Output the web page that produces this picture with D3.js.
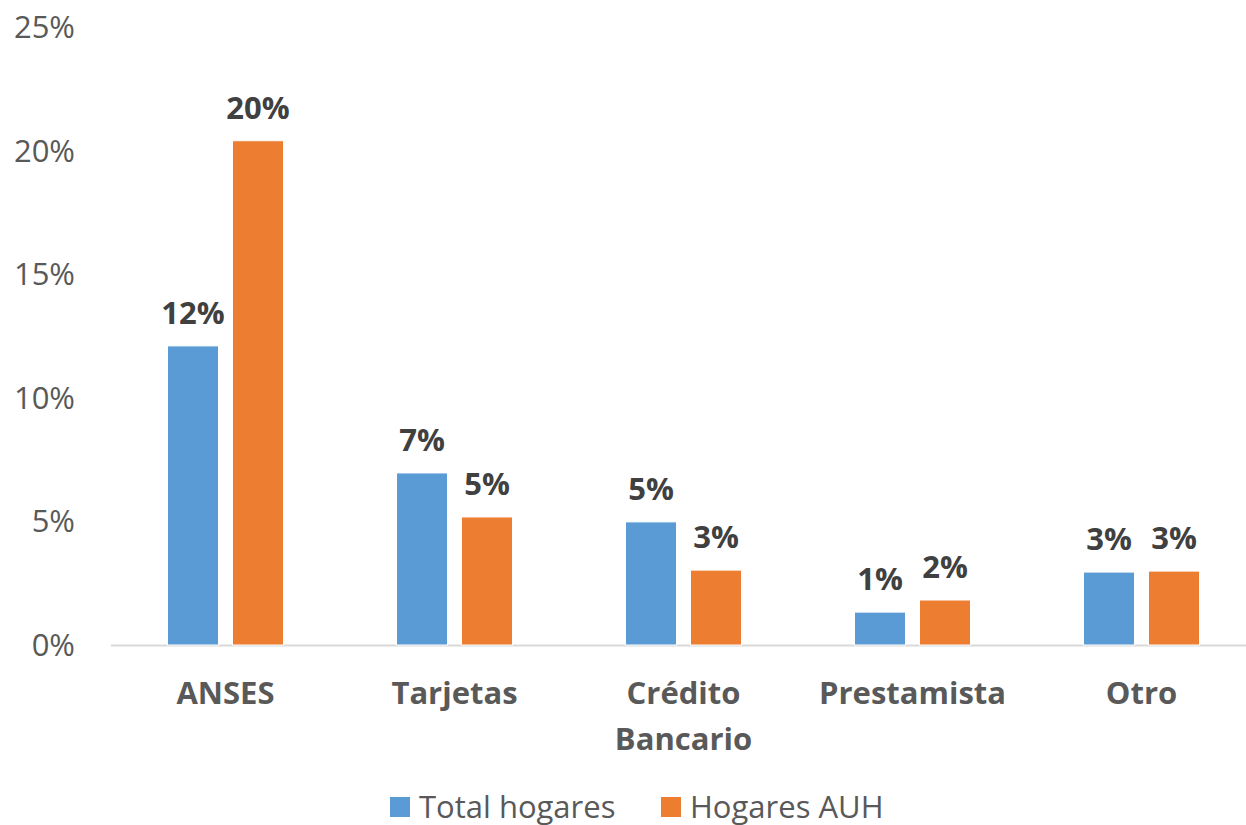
<!DOCTYPE html>
<html>
<head>
<meta charset="utf-8">
<script src="https://cdn.jsdelivr.net/npm/d3@7"></script>
<style>
  body { margin: 0; background: #fff; }
  svg { display: block; font-family: "Open Sans", sans-serif; }
</style>
</head>
<body>
<svg id="chart" width="1246" height="825"></svg>
<script>
// data
const categories = ["ANSES", "Tarjetas", "Crédito Bancario", "Prestamista", "Otro"];
const seriesNames = ["Total hogares", "Hogares AUH"];
const totalHogares = [12.1, 6.96, 4.98, 1.33, 2.95];
const hogaresAUH = [20.4, 5.18, 3.03, 1.82, 2.99];
const labelsTotal = ["12%", "7%", "5%", "1%", "3%"];
const labelsAUH = ["20%", "5%", "3%", "2%", "3%"];
const yTicks = [0, 5, 10, 15, 20, 25];

const colors = ["#5B9BD5", "#ED7D31"];

const svg = d3.select("#chart");

const y = d3.scaleLinear().domain([0, 25]).range([645, 27]);
const x0 = d3.scaleBand().domain(categories).range([111, 1256]);
const x1 = d3.scaleBand().domain(seriesNames).range([-58, 58]).paddingInner(0.2154);

// y tick labels (no gridlines in the original)
svg.append("g").selectAll("text")
  .data(yTicks)
  .join("text")
  .attr("x", 75)
  .attr("y", d => y(d) + 11)
  .attr("text-anchor", "end")
  .attr("fill", "#595959")
  .style("font-size", "31px")
  .text(d => d + "%");

// baseline
svg.append("line")
  .attr("x1", 111).attr("x2", 1256)
  .attr("y1", y(0) + 0.5).attr("y2", y(0) + 0.5)
  .attr("stroke", "#d9d9d9").attr("stroke-width", 2);

const rows = categories.map((c, i) => ({
  cat: c,
  vals: [
    { s: seriesNames[0], v: totalHogares[i], lab: labelsTotal[i], col: colors[0] },
    { s: seriesNames[1], v: hogaresAUH[i], lab: labelsAUH[i], col: colors[1] }
  ]
}));

const groups = svg.append("g").selectAll("g")
  .data(rows)
  .join("g")
  .attr("transform", d => `translate(${x0(d.cat) + x0.bandwidth() / 2},0)`);

groups.selectAll("rect")
  .data(d => d.vals)
  .join("rect")
  .attr("x", d => x1(d.s))
  .attr("width", x1.bandwidth())
  .attr("y", d => y(d.v))
  .attr("height", d => y(0) - y(d.v))
  .attr("fill", d => d.col)
  .attr("stroke", "#fff")
  .attr("stroke-width", 1);

groups.selectAll("text.val")
  .data(d => d.vals)
  .join("text")
  .attr("class", "val")
  .attr("x", d => x1(d.s) + x1.bandwidth() / 2)
  .attr("y", d => y(d.v) - 22)
  .attr("text-anchor", "middle")
  .attr("fill", "#404040")
  .style("font-size", "31px")
  .style("font-weight", "bold")
  .text(d => d.lab);

// category labels, wrapped at the space for Crédito Bancario
groups.append("text")
  .attr("text-anchor", "middle")
  .attr("fill", "#595959")
  .style("font-size", "31px")
  .style("font-weight", "bold")
  .each(function (d) {
    const words = d.cat === "Crédito Bancario" ? d.cat.split(" ") : [d.cat];
    const t = d3.select(this);
    words.forEach((w, i) => {
      t.append("tspan").attr("x", 0).attr("y", 704 + i * 46).text(w);
    });
  });

// legend
const legend = svg.append("g");
const legX = [390, 661];
seriesNames.forEach((s, i) => {
  legend.append("rect")
    .attr("x", legX[i]).attr("y", 797)
    .attr("width", 20).attr("height", 20)
    .attr("fill", colors[i]);
  legend.append("text")
    .attr("x", legX[i] + 29).attr("y", 818)
    .attr("fill", "#595959")
    .style("font-size", "31px")
    .text(s);
});
</script>
</body>
</html>
